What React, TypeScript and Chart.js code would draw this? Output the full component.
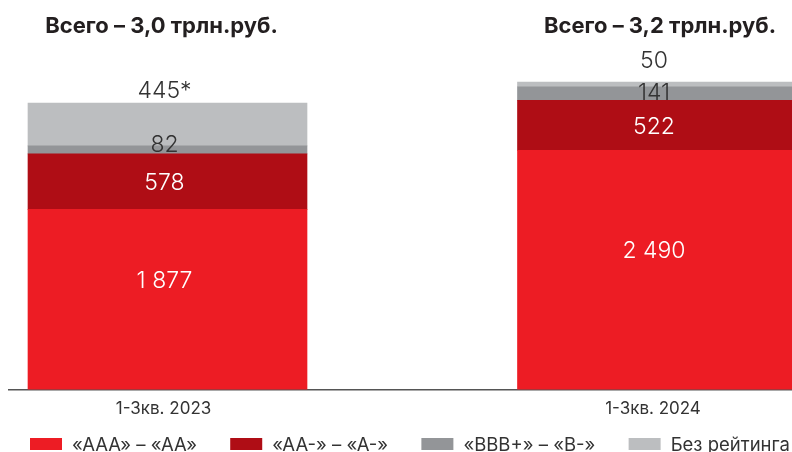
import React, { useEffect, useRef } from "react";
import { Chart, registerables } from "chart.js";

Chart.register(...registerables);

const periods = ["1-3кв. 2023", "1-3кв. 2024"];
const totalTitles = ["Всего – 3,0 трлн.руб.", "Всего – 3,2 трлн.руб."];
const seriesNames = ["«AAA» – «AA»", "«AA-» – «A-»", "«BBB+» – «B-»", "Без рейтинга"];
const aaaValues = [1877, 2490];
const aaMinusValues = [578, 522];
const bbbValues = [82, 141];
const unratedValues = [445, 50];
const unratedNotes = ["*", ""];

const seriesColors = ["#ED1C24", "#AF0D15", "#939598", "#BCBEC0"];
const FONT = "Inter, 'Noto Sans', sans-serif";

const fmt = (v: number) => String(v).replace(/\B(?=(\d{3})+(?!\d))/g, " ");

// label placement per series: colour, vertical shift per bar, mode
const labelStyles = [
  { color: "#ffffff", dy: [-20, -20], mode: "center" },
  { color: "#ffffff", dy: [0, 0], mode: "center" },
  { color: "#333333", dy: [-6, -2], mode: "center" },
  { color: "#333333", dy: [-5, -14], mode: "above" },
];
const labelNotes = [["", ""], ["", ""], ["", ""], unratedNotes];
const titleDx = [-6, 3];

const valueLabels = {
  id: "valueLabels",
  afterDatasetsDraw(chart: any) {
    const ctx = chart.ctx;
    const size = 23;
    ctx.save();
    ctx.font = `300 ${size}px ${FONT}`;
    ctx.textAlign = "center";
    ctx.textBaseline = "alphabetic";
    chart.data.datasets.forEach((ds: any, di: number) => {
      const meta = chart.getDatasetMeta(di);
      const st = labelStyles[di];
      meta.data.forEach((el: any, i: number) => {
        const v = ds.data[i].y;
        const text = fmt(v) + labelNotes[di][i];
        ctx.fillStyle = st.color;
        let y;
        if (st.mode === "above") {
          y = Math.min(el.y, el.base) + st.dy[i];
        } else {
          const c = (el.y + el.base) / 2;
          y = c + st.dy[i] + size * 0.36;
        }
        ctx.fillText(text, el.x - 3, y);
      });
    });
    ctx.restore();
  },
  afterDraw(chart: any) {
    const ctx = chart.ctx;
    const xs = chart.scales.x;
    ctx.save();
    // titles
    ctx.font = `700 22px ${FONT}`;
    ctx.fillStyle = "#231F20";
    ctx.textAlign = "center";
    ctx.textBaseline = "alphabetic";
    totalTitles.forEach((t, i) => {
      ctx.fillText(t, xs.getPixelForValue(i) + titleDx[i], 33);
    });
    // legend
    const fs = 18.5;
    ctx.font = `400 ${fs}px ${FONT}`;
    const boxW = 32, boxH = 12, gapText = 10;
    const left = 30, right = 790;
    const widths = chart.data.datasets.map((d: any) => boxW + gapText + ctx.measureText(d.label).width);
    const sum = widths.reduce((a: number, b: number) => a + b, 0);
    const gapItem = (right - left - sum) / (widths.length - 1);
    let x = left;
    const cy = 444;
    ctx.textAlign = "left";
    ctx.textBaseline = "middle";
    chart.data.datasets.forEach((d: any, i: number) => {
      ctx.fillStyle = d.backgroundColor;
      ctx.fillRect(x, cy - boxH / 2, boxW, boxH);
      ctx.fillStyle = "#333333";
      ctx.fillText(d.label, x + boxW + gapText, cy + 1);
      x += widths[i] + gapItem;
    });
    ctx.restore();
  },
};

export default function App() {
  const ref = useRef<HTMLCanvasElement>(null);
  useEffect(() => {
    if (!ref.current) return;
    const seriesValues = [aaaValues, aaMinusValues, bbbValues, unratedValues];
    const chart = new Chart(ref.current, {
      type: "bar",
      data: {
        datasets: seriesValues.map((vals, si) => ({
          label: seriesNames[si],
          data: vals.map((v, i) => ({ x: i, y: v })),
          backgroundColor: seriesColors[si],
          borderWidth: 0,
          barThickness: 279,
        })),
      },
      options: {
        responsive: false,
        animation: false,
        layout: { padding: { left: 9, right: 0, top: 40, bottom: 24 } },
        plugins: {
          legend: { display: false },
          tooltip: { enabled: false },
        },
        scales: {
          x: {
            type: "linear",
            stacked: true,
            offset: false,
            min: -0.3238,
            max: 1.2758,
            grid: { display: false, drawTicks: false, offset: false },
            border: { display: true, color: "#555555", width: 1.5 },
            afterBuildTicks: (s: any) => {
              s.ticks = periods.map((_, i) => ({ value: i }));
            },
            ticks: {
              autoSkip: false,
              maxRotation: 0,
              padding: 9,
              labelOffset: -4,
              color: "#333333",
              font: { family: FONT, size: 17, weight: "400" },
              callback: (v: any) => periods[v as number] ?? "",
            },
          },
          y: {
            display: false,
            stacked: true,
            min: 0,
            max: 3640,
          },
        },
      },
      plugins: [valueLabels],
    } as any);
    return () => chart.destroy();
  }, []);
  return (
    <div style={{ position: "absolute", left: 0, top: 0, width: 792, height: 452, background: "#fff" }}>
      <canvas ref={ref} width={792} height={452} style={{ display: "block" }} />
    </div>
  );
}
